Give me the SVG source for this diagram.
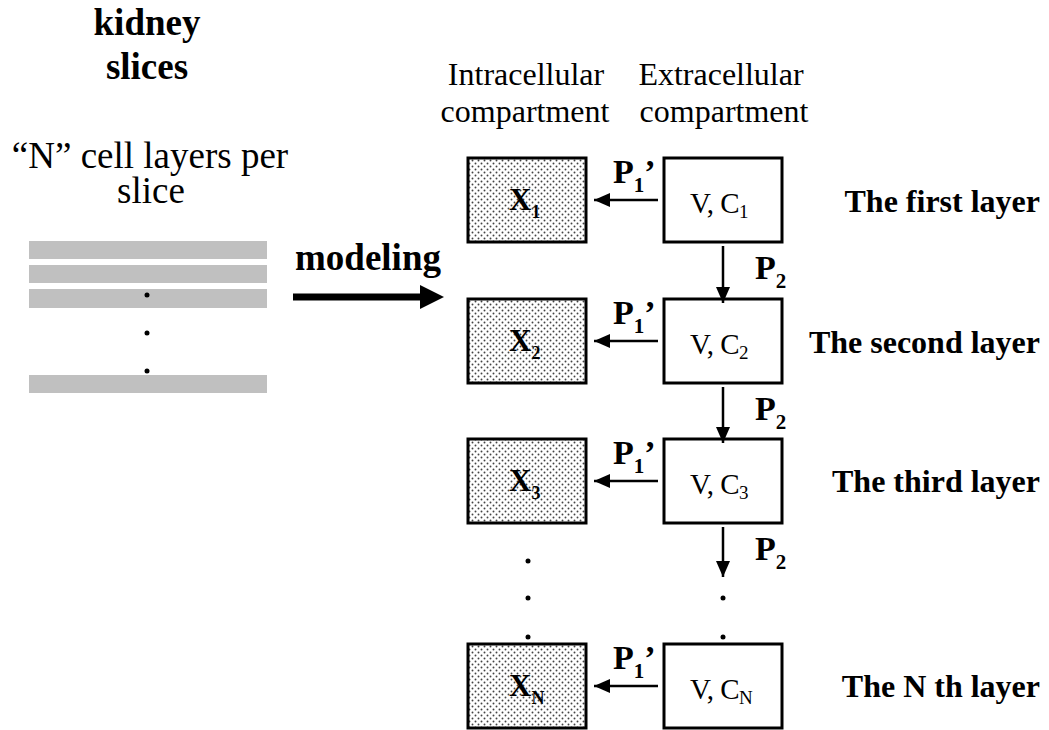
<svg xmlns="http://www.w3.org/2000/svg" width="1049" height="730" viewBox="0 0 1049 730">
<style>
text{font-family:"Liberation Serif","Times New Roman",serif;fill:#000}
.b{font-weight:bold}
.vc{font-size:29px;letter-spacing:-0.5px}
.box{fill:#fff;stroke:#000;stroke-width:3}
.xbox{fill:url(#dots);stroke:#000;stroke-width:3}
.bar{fill:#c0c0c0}
.conn{stroke:#000;stroke-width:2.5;fill:none}
</style>
<defs>
<pattern id="dots" width="6" height="6" patternUnits="userSpaceOnUse">
<rect width="6" height="6" fill="#fff"/>
<circle cx="1.5" cy="1.5" r="0.95" fill="#444"/>
<circle cx="4.5" cy="4.5" r="0.95" fill="#444"/>
</pattern>
<marker id="ah" markerWidth="16" markerHeight="14" refX="16" refY="7" orient="auto" markerUnits="userSpaceOnUse">
<path d="M0,0 L16,7 L0,14 Z" fill="#000"/>
</marker>
</defs>

<g id="slices">
<text class="b" x="147" y="35" font-size="37" text-anchor="middle">kidney</text>
<text class="b" x="147" y="79" font-size="37" text-anchor="middle">slices</text>
<text x="150" y="168" font-size="37" text-anchor="middle">“N” cell layers per</text>
<text x="151" y="203" font-size="37" text-anchor="middle">slice</text>
<rect class="bar" x="29" y="241" width="238" height="18"/>
<rect class="bar" x="29" y="265" width="238" height="18"/>
<rect class="bar" x="29" y="289" width="238" height="19"/>
<rect class="bar" x="29" y="375" width="238" height="18"/>
<circle cx="147" cy="295" r="2.5"/>
<circle cx="147" cy="333" r="2.5"/>
<circle cx="147" cy="371" r="2.5"/>
</g>

<g id="modeling">
<text class="b" x="295" y="270" font-size="37">modeling</text>
<rect x="293" y="293.5" width="128" height="7"/>
<path d="M420,285 L444,297 L420,309 Z"/>
</g>

<g id="headers">
<text x="526" y="85" font-size="32" text-anchor="middle">Intracellular</text>
<text x="525" y="122" font-size="32" text-anchor="middle">compartment</text>
<text x="721" y="85" font-size="32" text-anchor="middle">Extracellular</text>
<text x="724" y="122" font-size="32" text-anchor="middle">compartment</text>
</g>

<g id="x1"><rect class="xbox" x="468" y="158" width="118" height="84"/>
<text class="b" x="509" y="210" font-size="31">X<tspan font-size="18" dy="8">1</tspan></text></g>
<g id="v1"><rect class="box" x="664" y="158" width="118" height="84"/>
<text class="vc" x="690" y="213">V, C<tspan font-size="19" dy="5">1</tspan></text></g>
<g id="label1"><text class="b" x="1040" y="212" font-size="32" text-anchor="end">The first layer</text></g>

<g id="x2"><rect class="xbox" x="468" y="299" width="118" height="84"/>
<text class="b" x="509" y="351" font-size="31">X<tspan font-size="18" dy="8">2</tspan></text></g>
<g id="v2"><rect class="box" x="664" y="299" width="118" height="84"/>
<text class="vc" x="690" y="354">V, C<tspan font-size="19" dy="5">2</tspan></text></g>
<g id="label2"><text class="b" x="1040" y="353" font-size="32" text-anchor="end">The second layer</text></g>

<g id="x3"><rect class="xbox" x="468" y="439" width="118" height="84"/>
<text class="b" x="509" y="491" font-size="31">X<tspan font-size="18" dy="8">3</tspan></text></g>
<g id="v3"><rect class="box" x="664" y="439" width="118" height="84"/>
<text class="vc" x="690" y="494">V, C<tspan font-size="19" dy="5">3</tspan></text></g>
<g id="label3"><text class="b" x="1040" y="492" font-size="32" text-anchor="end">The third layer</text></g>

<g id="xN"><rect class="xbox" x="468" y="644" width="118" height="84"/>
<text class="b" x="509" y="696" font-size="31">X<tspan font-size="18" dy="8">N</tspan></text></g>
<g id="vN"><rect class="box" x="664" y="644" width="118" height="84"/>
<text class="vc" x="690" y="699">V, C<tspan font-size="19" dy="5">N</tspan></text></g>
<g id="labelN"><text class="b" x="1040" y="697" font-size="32" text-anchor="end">The N th layer</text></g>

<g id="ellipsis">
<circle cx="528" cy="561" r="2.5"/>
<circle cx="528" cy="598" r="2.5"/>
<circle cx="528" cy="637" r="2.5"/>
<circle cx="723" cy="598" r="2.5"/>
<circle cx="723" cy="637" r="2.5"/>
</g>

<g id="connectors">
<line class="conn" x1="658" y1="200" x2="594" y2="200" marker-end="url(#ah)"/>
<line class="conn" x1="658" y1="341" x2="594" y2="341" marker-end="url(#ah)"/>
<line class="conn" x1="658" y1="481" x2="594" y2="481" marker-end="url(#ah)"/>
<line class="conn" x1="658" y1="686" x2="594" y2="686" marker-end="url(#ah)"/>
<line class="conn" x1="723" y1="246" x2="723" y2="303" marker-end="url(#ah)"/>
<line class="conn" x1="723" y1="387" x2="723" y2="443" marker-end="url(#ah)"/>
<line class="conn" x1="723" y1="527" x2="723" y2="577" marker-end="url(#ah)"/>
<text class="b" x="613" y="183" font-size="34">P<tspan font-size="21" dy="9">1</tspan><tspan dy="-9">’</tspan></text>
<text class="b" x="613" y="324" font-size="34">P<tspan font-size="21" dy="9">1</tspan><tspan dy="-9">’</tspan></text>
<text class="b" x="613" y="464" font-size="34">P<tspan font-size="21" dy="9">1</tspan><tspan dy="-9">’</tspan></text>
<text class="b" x="613" y="669" font-size="34">P<tspan font-size="21" dy="9">1</tspan><tspan dy="-9">’</tspan></text>
<text class="b" x="755" y="279" font-size="34">P<tspan font-size="21" dy="9">2</tspan></text>
<text class="b" x="755" y="420" font-size="34">P<tspan font-size="21" dy="9">2</tspan></text>
<text class="b" x="755" y="560" font-size="34">P<tspan font-size="21" dy="9">2</tspan></text>
</g>
</svg>
